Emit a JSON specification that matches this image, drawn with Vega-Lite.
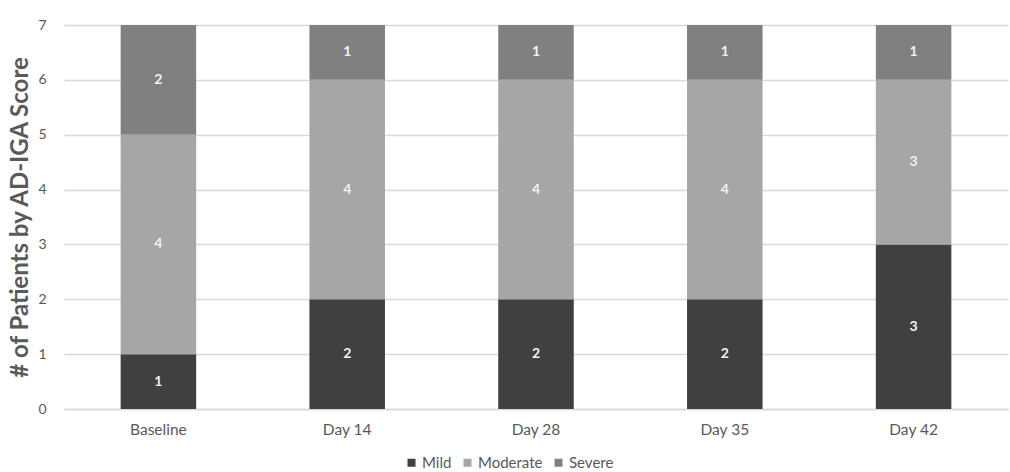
{
  "$schema": "https://vega.github.io/schema/vega-lite/v6.json",
  "autosize": "none",
  "width": 944,
  "height": 384,
  "padding": {"left": 64, "top": 25, "right": 2, "bottom": 63},
  "background": "white",
  "config": {"font": "Lato", "view": {"stroke": null}},
  "data": {"values": [
    {"visit": "Baseline", "score": "Mild", "ord": 1, "n": 1},
    {"visit": "Baseline", "score": "Moderate", "ord": 2, "n": 4},
    {"visit": "Baseline", "score": "Severe", "ord": 3, "n": 2},
    {"visit": "Day 14", "score": "Mild", "ord": 1, "n": 2},
    {"visit": "Day 14", "score": "Moderate", "ord": 2, "n": 4},
    {"visit": "Day 14", "score": "Severe", "ord": 3, "n": 1},
    {"visit": "Day 28", "score": "Mild", "ord": 1, "n": 2},
    {"visit": "Day 28", "score": "Moderate", "ord": 2, "n": 4},
    {"visit": "Day 28", "score": "Severe", "ord": 3, "n": 1},
    {"visit": "Day 35", "score": "Mild", "ord": 1, "n": 2},
    {"visit": "Day 35", "score": "Moderate", "ord": 2, "n": 4},
    {"visit": "Day 35", "score": "Severe", "ord": 3, "n": 1},
    {"visit": "Day 42", "score": "Mild", "ord": 1, "n": 3},
    {"visit": "Day 42", "score": "Moderate", "ord": 2, "n": 3},
    {"visit": "Day 42", "score": "Severe", "ord": 3, "n": 1}
  ]},
  "transform": [
    {"stack": "n", "groupby": ["visit"], "sort": [{"field": "ord", "order": "ascending"}], "as": ["n0", "n1"]},
    {"calculate": "(datum.n0 + datum.n1) / 2", "as": "mid"}
  ],
  "encoding": {
    "x": {"field": "visit", "type": "nominal", "sort": null,
      "scale": {"paddingInner": 0.6, "paddingOuter": 0.3},
      "axis": {"title": null, "labelAngle": 0, "labelFont": "Lato", "labelFontSize": 15.5, "labelColor": "#595959", "labelPadding": 13, "ticks": false, "domainColor": "#d9d9d9", "domainWidth": 1.5}}
  },
  "layer": [
    {"mark": {"type": "bar"},
     "encoding": {
       "y": {"field": "n0", "type": "quantitative",
         "scale": {"domain": [0, 7], "nice": false},
         "axis": {"title": "# of Patients by AD-IGA Score", "titleFontSize": 24, "titleFontWeight": "bold", "titleColor": "#595959", "titlePadding": 5,
           "values": [0,1,2,3,4,5,6,7], "format": "d", "labelFontSize": 14, "labelColor": "#595959", "labelPadding": 18, "ticks": false, "domain": false,
           "gridColor": "#d9d9d9", "gridWidth": 1.5}},
       "y2": {"field": "n1"},
       "color": {"field": "score", "type": "nominal",
         "scale": {"domain": ["Mild", "Moderate", "Severe"], "range": ["#404040", "#a6a6a6", "#808080"]},
         "legend": {"title": null, "orient": "none", "legendX": 340, "legendY": 430, "direction": "horizontal", "symbolType": "square", "symbolSize": 64, "labelFontSize": 15, "labelColor": "#595959", "columnPadding": 8, "symbolStrokeWidth": 0, "labelOffset": 3}}
     }},
    {"mark": {"type": "text", "color": "#f2f2f2", "fontSize": 14, "fontWeight": "bold"},
     "encoding": {
       "y": {"field": "mid", "type": "quantitative"},
       "text": {"field": "n", "type": "quantitative"}}}
  ]
}
